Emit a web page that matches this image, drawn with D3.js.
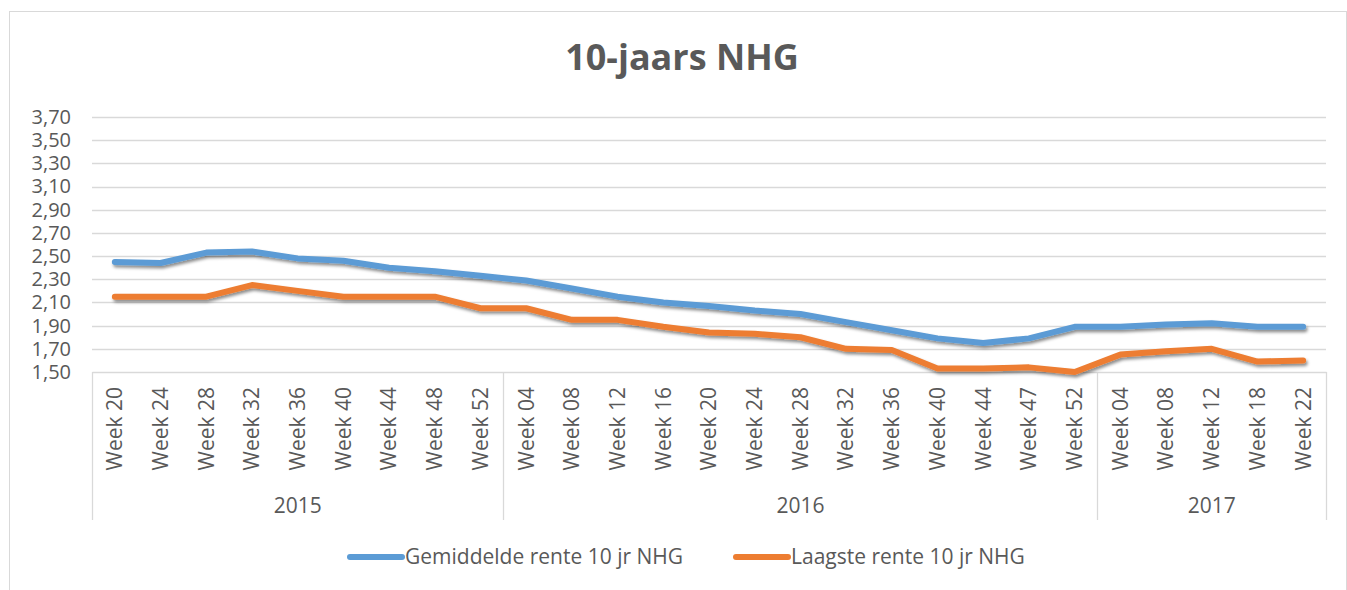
<!DOCTYPE html>
<html>
<head>
<meta charset="utf-8">
<script src="https://cdn.jsdelivr.net/npm/d3@7"></script>
<style>
  body { margin: 0; background: #fff; }
  svg text { font-family: "Open Sans", "Noto Sans", sans-serif; fill: #595959; }
</style>
</head>
<body>
<div id="chart"></div>
<script>
// categories: week labels, grouped by year
const years = ["2015", "2016", "2017"];
const weeks2015 = ["Week 20", "Week 24", "Week 28", "Week 32", "Week 36", "Week 40", "Week 44", "Week 48", "Week 52"];
const weeks2016 = ["Week 04", "Week 08", "Week 12", "Week 16", "Week 20", "Week 24", "Week 28", "Week 32", "Week 36", "Week 40", "Week 44", "Week 47", "Week 52"];
const weeks2017 = ["Week 04", "Week 08", "Week 12", "Week 18", "Week 22"];

const gemiddelde = [2.45, 2.44, 2.53, 2.54, 2.48, 2.46, 2.40, 2.37, 2.33,
  2.29, 2.22, 2.15, 2.10, 2.07, 2.03, 2.00, 1.93, 1.86, 1.79, 1.75, 1.79, 1.89,
  1.89, 1.91, 1.92, 1.89, 1.89];
const laagste = [2.15, 2.15, 2.15, 2.25, 2.20, 2.15, 2.15, 2.15, 2.05,
  2.05, 1.95, 1.95, 1.89, 1.84, 1.83, 1.80, 1.70, 1.69, 1.53, 1.53, 1.54, 1.50,
  1.65, 1.68, 1.70, 1.59, 1.60];

const yTicks = [1.5, 1.7, 1.9, 2.1, 2.3, 2.5, 2.7, 2.9, 3.1, 3.3, 3.5, 3.7];

const width = 1347, height = 590;
const margin = { top: 117, right: 21, bottom: 218, left: 92 };

const groups = [weeks2015, weeks2016, weeks2017];
const cats = [];
groups.forEach((g, gi) => g.forEach(w => cats.push({ year: years[gi], week: w, key: years[gi] + " " + w })));

const svg = d3.select("#chart").append("svg")
  .attr("width", width)
  .attr("height", height);

// chart border
svg.append("rect")
  .attr("x", 9.5).attr("y", 11.5)
  .attr("width", width - 10).attr("height", height)
  .attr("fill", "none").attr("stroke", "#d9d9d9");

const defs = svg.append("defs");
const f = defs.append("filter").attr("id", "shadow")
  .attr("x", "-5%").attr("y", "-20%").attr("width", "110%").attr("height", "160%");
f.append("feDropShadow").attr("dx", 1.5).attr("dy", 2.5).attr("stdDeviation", 1.8)
  .attr("flood-color", "#000").attr("flood-opacity", 0.45);

svg.append("text")
  .attr("x", 682).attr("y", 70)
  .attr("text-anchor", "middle")
  .style("font-size", "36px").style("font-weight", "bold")
  .text("10-jaars NHG");

const plotW = width - margin.left - margin.right;
const plotH = height - margin.top - margin.bottom;

const x = d3.scaleBand()
  .domain(cats.map(d => d.key))
  .range([0, plotW]);

const y = d3.scaleLinear()
  .domain([1.5, 3.7])
  .range([plotH, 0]);

const g = svg.append("g")
  .attr("transform", "translate(" + [margin.left, margin.top] + ")");

// gridlines
g.append("g")
  .selectAll("line")
  .data(yTicks.slice(1))
  .join("line")
    .attr("x1", 0).attr("x2", plotW)
    .attr("y1", d => Math.round(y(d)) + 0.5).attr("y2", d => Math.round(y(d)) + 0.5)
    .attr("stroke", "#d9d9d9").attr("stroke-width", 1.3);

// y axis labels
const yAxis = d3.axisLeft(y)
  .tickValues(yTicks)
  .tickFormat(d => d3.format(".2f")(d).replace(".", ","))
  .tickSize(0)
  .tickPadding(21);
g.append("g").call(yAxis)
  .call(s => s.select(".domain").remove())
  .selectAll("text")
    .style("font-size", "20px")
    .attr("fill", "#595959");

// x axis: week labels
const xAxis = d3.axisBottom(x)
  .tickFormat(k => cats.find(c => c.key === k).week)
  .tickSize(0);
g.append("g")
  .attr("transform", "translate(0," + plotH + ")")
  .call(xAxis)
  .call(s => s.select(".domain").attr("stroke", "#d9d9d9").attr("stroke-width", 1.3))
  .selectAll("text")
    .style("font-size", "21px")
    .attr("fill", "#595959")
    .attr("transform", "rotate(-90)")
    .attr("text-anchor", "end")
    .attr("dy", "0.35em")
    .attr("x", -15)
    .attr("y", 0);

// year group separators and labels
let idx = 0;
const bounds = [0];
groups.forEach(gr => { idx += gr.length; bounds.push(idx); });
const edgeX = i => i < cats.length ? x(cats[i].key) : plotW;

g.append("g")
  .selectAll("line")
  .data(bounds)
  .join("line")
    .attr("x1", d => Math.round(edgeX(d)) + 0.5).attr("x2", d => Math.round(edgeX(d)) + 0.5)
    .attr("y1", plotH).attr("y2", plotH + 148)
    .attr("stroke", "#d9d9d9").attr("stroke-width", 1.3);

g.append("g")
  .selectAll("text")
  .data(years)
  .join("text")
    .attr("x", (d, i) => (edgeX(bounds[i]) + edgeX(bounds[i + 1])) / 2)
    .attr("y", plotH + 141)
    .attr("text-anchor", "middle")
    .style("font-size", "21px")
    .text(d => d);

// lines
const series = [
  { name: "Gemiddelde rente 10 jr NHG", values: gemiddelde, color: "#5b9bd5" },
  { name: "Laagste rente 10 jr NHG", values: laagste, color: "#ed7d31" }
];

const line = d3.line()
  .x((d, i) => x(cats[i].key) + x.bandwidth() / 2)
  .y(d => y(d));

g.append("g")
  .selectAll("path")
  .data(series)
  .join("path")
    .attr("d", d => line(d.values))
    .attr("fill", "none")
    .attr("stroke", d => d.color)
    .attr("stroke-width", 6)
    .attr("stroke-linecap", "round")
    .attr("stroke-linejoin", "round")
    .attr("filter", "url(#shadow)");

// legend
const legendPos = [347, 733];
const lg = svg.append("g")
  .selectAll("g")
  .data(series)
  .join("g")
    .attr("transform", (d, i) => "translate(" + legendPos[i] + ",557)");
lg.append("line")
  .attr("x1", 3).attr("x2", 55)
  .attr("stroke", d => d.color)
  .attr("stroke-width", 6)
  .attr("stroke-linecap", "round");
lg.append("text")
  .attr("x", 58)
  .attr("dy", "0.35em")
  .style("font-size", "21px")
  .text(d => d.name);
</script>
</body>
</html>
